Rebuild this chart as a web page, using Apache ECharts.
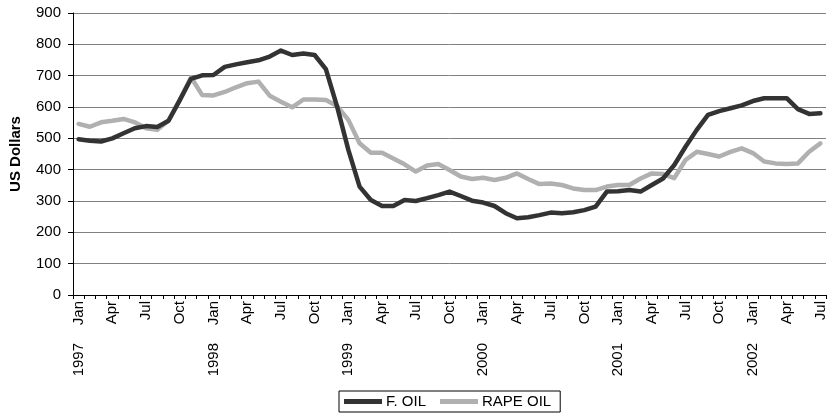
<!DOCTYPE html>
<html>
<head>
<meta charset="utf-8">
<script src="https://cdn.jsdelivr.net/npm/echarts@6/dist/echarts.min.js"></script>
<style>
  html, body { margin: 0; padding: 0; background: #fff; }
  #chart { width: 830px; height: 415px; }
</style>
</head>
<body>
<div id="chart"></div>
<script>
const MONTHS = ['Jan', 'Feb', 'Mar', 'Apr', 'May', 'Jun', 'Jul', 'Aug', 'Sep', 'Oct', 'Nov', 'Dec']
const YEARS = ['1997', '1998', '1999', '2000', '2001', '2002']
const MONTH_COUNT = 67 // Jan 1997 .. Jul 2002

const fOil = [
  497, 492, 490, 500, 516, 532, 539, 536, 556, 622, 690, 701,
  702, 728, 736, 743, 749, 761, 780, 766, 771, 766, 721, 601,
  463, 346, 303, 284, 284, 303, 300, 309, 319, 330, 316, 301,
  295, 284, 261, 245, 248, 255, 263, 261, 264, 271, 282, 330,
  331, 335, 330, 351, 372, 415, 473, 527, 575, 587, 596, 605,
  619, 628, 628, 628, 593, 578, 580,
]
const rapeOil = [
  546, 537, 551, 556, 562, 551, 532, 527, 557, 622, 695, 638,
  637, 648, 663, 676, 681, 636, 617, 599, 624, 624, 622, 603,
  559, 484, 454, 454, 436, 417, 394, 413, 418, 399, 378, 370,
  374, 367, 374, 388, 370, 354, 356, 351, 340, 335, 335, 346,
  351, 351, 372, 388, 386, 373, 431, 457, 450, 442, 457, 468,
  453, 426, 420, 418, 420, 457, 484,
]

// month names for every point; the year row is a second axis on the same categories
const categories = []
for (let i = 0; i < MONTH_COUNT; i++) categories.push(MONTHS[i % 12])

const font = 'Liberation Sans, Arial, sans-serif'
const chart = echarts.init(document.getElementById('chart'), null, { renderer: 'canvas' })

chart.setOption({
  animation: false,
  backgroundColor: '#fff',
  textStyle: { fontFamily: font, color: '#000' },
  grid: { left: 72, right: 4, top: 13, bottom: 120 },
  legend: {
    bottom: 3,
    left: 339,
    data: ['F. OIL', 'RAPE OIL'],
    icon: 'rect',
    itemWidth: 38,
    itemHeight: 5,
    itemGap: 14,
    padding: [3, 9, 3, 5],
    borderColor: '#000',
    borderWidth: 1,
    borderRadius: 0,
    textStyle: { fontFamily: font, fontSize: 15, color: '#000', padding: [0, 0, 0, -1] },
  },
  xAxis: [
    {
      type: 'category',
      data: categories,
      boundaryGap: true,
      axisLine: { lineStyle: { color: '#000', width: 1 } },
      axisTick: { show: true, interval: 0, length: 4, lineStyle: { color: '#000' } },
      axisLabel: {
        interval: 2,
        rotate: 90,
        margin: 6,
        fontSize: 15,
        color: '#000',
        fontFamily: font,
      },
      splitLine: { show: false },
    },
    {
      type: 'category',
      data: categories,
      position: 'bottom',
      boundaryGap: true,
      axisLine: { show: false },
      axisTick: { show: false },
      axisLabel: {
        interval: (idx) => idx % 12 === 0,
        formatter: (v, idx) => YEARS[Math.floor(idx / 12)],
        rotate: 90,
        margin: 48,
        fontSize: 15,
        color: '#000',
        fontFamily: font,
      },
      splitLine: { show: false },
    },
  ],
  yAxis: {
    type: 'value',
    min: 0,
    max: 900,
    interval: 100,
    name: 'US Dollars',
    nameLocation: 'middle',
    nameGap: 50,
    nameTextStyle: { fontFamily: font, fontSize: 15, fontWeight: 'bold', color: '#000' },
    axisLine: { show: true, lineStyle: { color: '#000', width: 1 } },
    axisTick: { show: true, length: 5, lineStyle: { color: '#000' } },
    axisLabel: { margin: 12, fontSize: 15, color: '#000', fontFamily: font },
    splitLine: { lineStyle: { color: '#808080', width: 1 } },
  },
  series: [
    {
      name: 'F. OIL',
      type: 'line',
      data: fOil,
      symbol: 'none',
      lineStyle: { color: '#333333', width: 4.5, join: 'round', cap: 'round' },
      itemStyle: { color: '#333333' },
      z: 3,
    },
    {
      name: 'RAPE OIL',
      type: 'line',
      data: rapeOil,
      symbol: 'none',
      lineStyle: { color: '#b0b0b0', width: 4.5, join: 'round', cap: 'round' },
      itemStyle: { color: '#b0b0b0' },
      z: 2,
    },
  ],
})
</script>
</body>
</html>
